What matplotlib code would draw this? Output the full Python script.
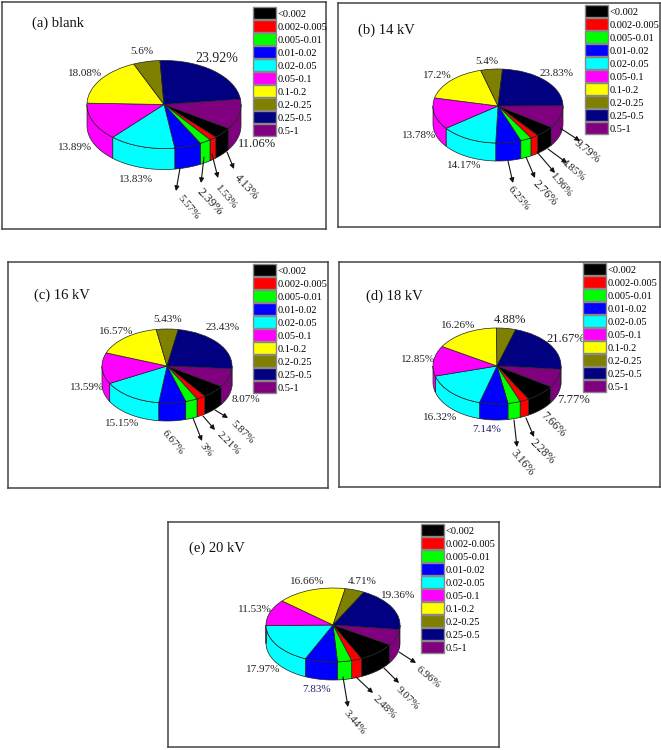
import numpy as np
import matplotlib
matplotlib.use('Agg')
import matplotlib.pyplot as plt
from matplotlib.patches import Patch
from matplotlib.transforms import Affine2D

plt.rcParams['font.family'] = ['Liberation Serif', 'DejaVu Serif']

W, H = 661, 750

# size classes, same order as the legend
categories = ['<0.002', '0.002-0.005', '0.005-0.01', '0.01-0.02', '0.02-0.05',
              '0.05-0.1', '0.1-0.2', '0.2-0.25', '0.25-0.5', '0.5-1']
colors = ['#000000', '#ff0000', '#00ff00', '#0000ff', '#00ffff',
          '#ff00ff', '#ffff00', '#808000', '#000080', '#800080']

blank = [4.13, 1.53, 2.39, 5.57, 13.83, 13.89, 18.08, 5.6, 23.92, 11.06]
kv14 = [4.85, 1.96, 2.76, 6.25, 14.17, 13.78, 17.2, 5.4, 23.83, 9.79]
kv16 = [5.87, 2.21, 3, 6.67, 15.15, 13.59, 16.57, 5.43, 23.43, 8.07]
kv18 = [7.66, 2.28, 3.16, 7.14, 16.32, 12.85, 16.26, 4.88, 21.67, 7.77]
kv20 = [9.07, 2.48, 3.44, 7.83, 17.97, 11.53, 16.66, 4.71, 19.36, 6.96]

# these two labels are dark blue in the picture
blue_labels = [7.14, 7.83]

# layout in image pixels
panels = [
    dict(title='(a) blank', values=blank, frame=(1.5, 1.5, 326, 229), title_pos=(32, 23),
         centre=(164, 104.5), rx=77, ry=44, depth=21, start=-3, legend=(253, 7),
         labels=[(246, 187, -47, 8.5), (226, 197, -50, 8), (210, 202, -47, 9), (188, 207, -50, 8),
                 (136, 179, 0, 8), (75, 148, 0, 8), (85, 74, 0, 8), (142, 52, 0, 8),
                 (217, 59, 0, 10), (257, 144, 0, 9)],
         arrows=[(227, 152, 234, 169), (212, 154, 218, 178), (204, 157, 201, 183), (180, 168, 176, 191)]),
    dict(title='(b) 14 kV', values=kv14, frame=(338, 3, 660, 227), title_pos=(358, 30),
         centre=(498, 106), rx=65, ry=37, depth=18, start=4, legend=(585, 5),
         labels=[(573, 170, -40, 8), (561, 185, -50, 8), (545, 193, -47, 8.5), (519, 198, -50, 8),
                 (464, 166, 0, 8), (419, 136, 0, 8), (437, 76, 0, 8), (487, 61, 0, 8),
                 (557, 74, 0, 8), (587, 151, -40, 8.5)],
         arrows=[(548, 149, 567, 163), (537, 152, 555, 173), (526, 157, 535, 178), (508, 161, 513, 183),
                 (560, 128, 580, 141)]),
    dict(title='(c) 16 kV', values=kv16, frame=(8, 262, 328, 488), title_pos=(34, 295),
         centre=(167, 366), rx=65, ry=37, depth=18, start=10, legend=(253, 264),
         labels=[(242, 432, -45, 8), (228, 443, -45, 8), (206, 450, -50, 8), (173, 442, -50, 8),
                 (122, 423, 0, 8), (87, 388, 0, 8), (116, 331, 0, 8), (168, 320, 0, 8),
                 (223, 328, 0, 8), (246, 400, 0, 8)],
         arrows=[(215, 410, 228, 418), (203, 416, 215, 430), (193, 418, 202, 441)]),
    dict(title='(d) 18 kV', values=kv18, frame=(339, 262, 660, 487), title_pos=(366, 296),
         centre=(497, 366), rx=64, ry=38, depth=16, start=17, legend=(583, 263),
         labels=[(553, 425, -45, 8.5), (542, 452, -45, 8.5), (522, 463, -50, 8.5), (487, 430, 0, 8),
                 (440, 417, 0, 8), (418, 359, 0, 8), (458, 326, 0, 8), (510, 320, 0, 9),
                 (566, 339, 0, 9), (574, 400, 0, 9)],
         arrows=[(526, 418, 534, 437), (514, 420, 517, 447)]),
    dict(title='(e) 20 kV', values=kv20, frame=(168, 522, 499, 747), title_pos=(189, 548),
         centre=(333, 625), rx=67, ry=37, depth=18, start=27.5, legend=(421, 524),
         labels=[(408, 698, -45, 8), (384, 707, -45, 8), (355, 722, -50, 8), (317, 690, 0, 8),
                 (263, 669, 0, 8), (255, 609, 0, 8), (307, 582, 0, 8), (362, 582, 0, 8),
                 (398, 595, 0, 8), (428, 677, -40, 8)],
         arrows=[(384, 668, 399, 683), (356, 677, 373, 693), (343, 677, 348, 707), (399, 652, 416, 663)]),
]

fig = plt.figure(figsize=(W / 100, H / 100), dpi=100)
# image pixels to display, y pointing down
px = Affine2D().scale(1 / W, -1 / H).translate(0, 1) + fig.transFigure


def draw_panel(p):
    x0, y0, x1, y1 = p['frame']
    cx, cy = p['centre']
    rx, ry = p['rx'], p['ry']
    ax = fig.add_axes([x0 / W, 1 - y1 / H, (x1 - x0) / W, (y1 - y0) / H])

    # first legend class starts after the 0.25-0.5 and 0.5-1 slices, going clockwise
    values = np.array(p['values'], dtype=float)
    share = values / values.sum() * 360
    first = 90 - (p['start'] + share[8] + share[9])
    ax.pie(values, colors=colors, startangle=first, counterclock=False,
           wedgeprops=dict(edgecolor='#222222', linewidth=0.5))
    ax.set_aspect('auto')
    ax.set_xlim((x0 - cx) / rx, (x1 - cx) / rx)
    ax.set_ylim((cy - y1) / ry, (cy - y0) / ry)

    # side wall of the disc, only the front half shows
    drop = p['depth'] / ry
    edges = first - np.concatenate([[0], np.cumsum(share)])
    for i in range(len(values)):
        for shift in (0, 360, 720):
            hi = edges[i] + shift
            lo = edges[i + 1] + shift
            a = max(lo, 180)
            b = min(hi, 360)
            if b <= a:
                continue
            t = np.radians(np.linspace(a, b, 40))
            xs = np.concatenate([np.cos(t), np.cos(t[::-1])])
            ys = np.concatenate([np.sin(t), np.sin(t[::-1]) - drop])
            ax.fill(xs, ys, facecolor=colors[i], edgecolor='#222222', linewidth=0.5, zorder=0.5)

    ax.set_frame_on(True)
    for s in ax.spines.values():
        s.set_color('#444444')
        s.set_linewidth(1.1)

    ax.text(p['title_pos'][0], p['title_pos'][1], p['title'], transform=px,
            fontsize=10.5, ha='left', va='center', color='#111111')

    for v, (lx, ly, rot, size) in zip(p['values'], p['labels']):
        color = '#20206a' if v in blue_labels else '#222222'
        ax.text(lx, ly, f'{v:g}%', transform=px, fontsize=size, rotation=rot,
                ha='center', va='center', color=color, clip_on=False)

    for ax0, ay0, ax1_, ay1 in p['arrows']:
        ax.annotate('', xy=(ax1_, ay1), xytext=(ax0, ay0), xycoords=px, textcoords=px,
                    arrowprops=dict(arrowstyle='-|>', color='#111111', lw=0.8,
                                    mutation_scale=7, shrinkA=0, shrinkB=0))

    handles = [Patch(facecolor=c, edgecolor='#888888', linewidth=1.0, label=n)
               for c, n in zip(colors, categories)]
    ax.legend(handles=handles, loc='upper left', bbox_to_anchor=p['legend'], bbox_transform=px,
              frameon=False, fontsize=7.5, handlelength=2.2, handleheight=1.42,
              labelspacing=0.08, handletextpad=0.2, borderpad=0, borderaxespad=0)


for p in panels:
    draw_panel(p)

fig.savefig('out.png', dpi=100)
